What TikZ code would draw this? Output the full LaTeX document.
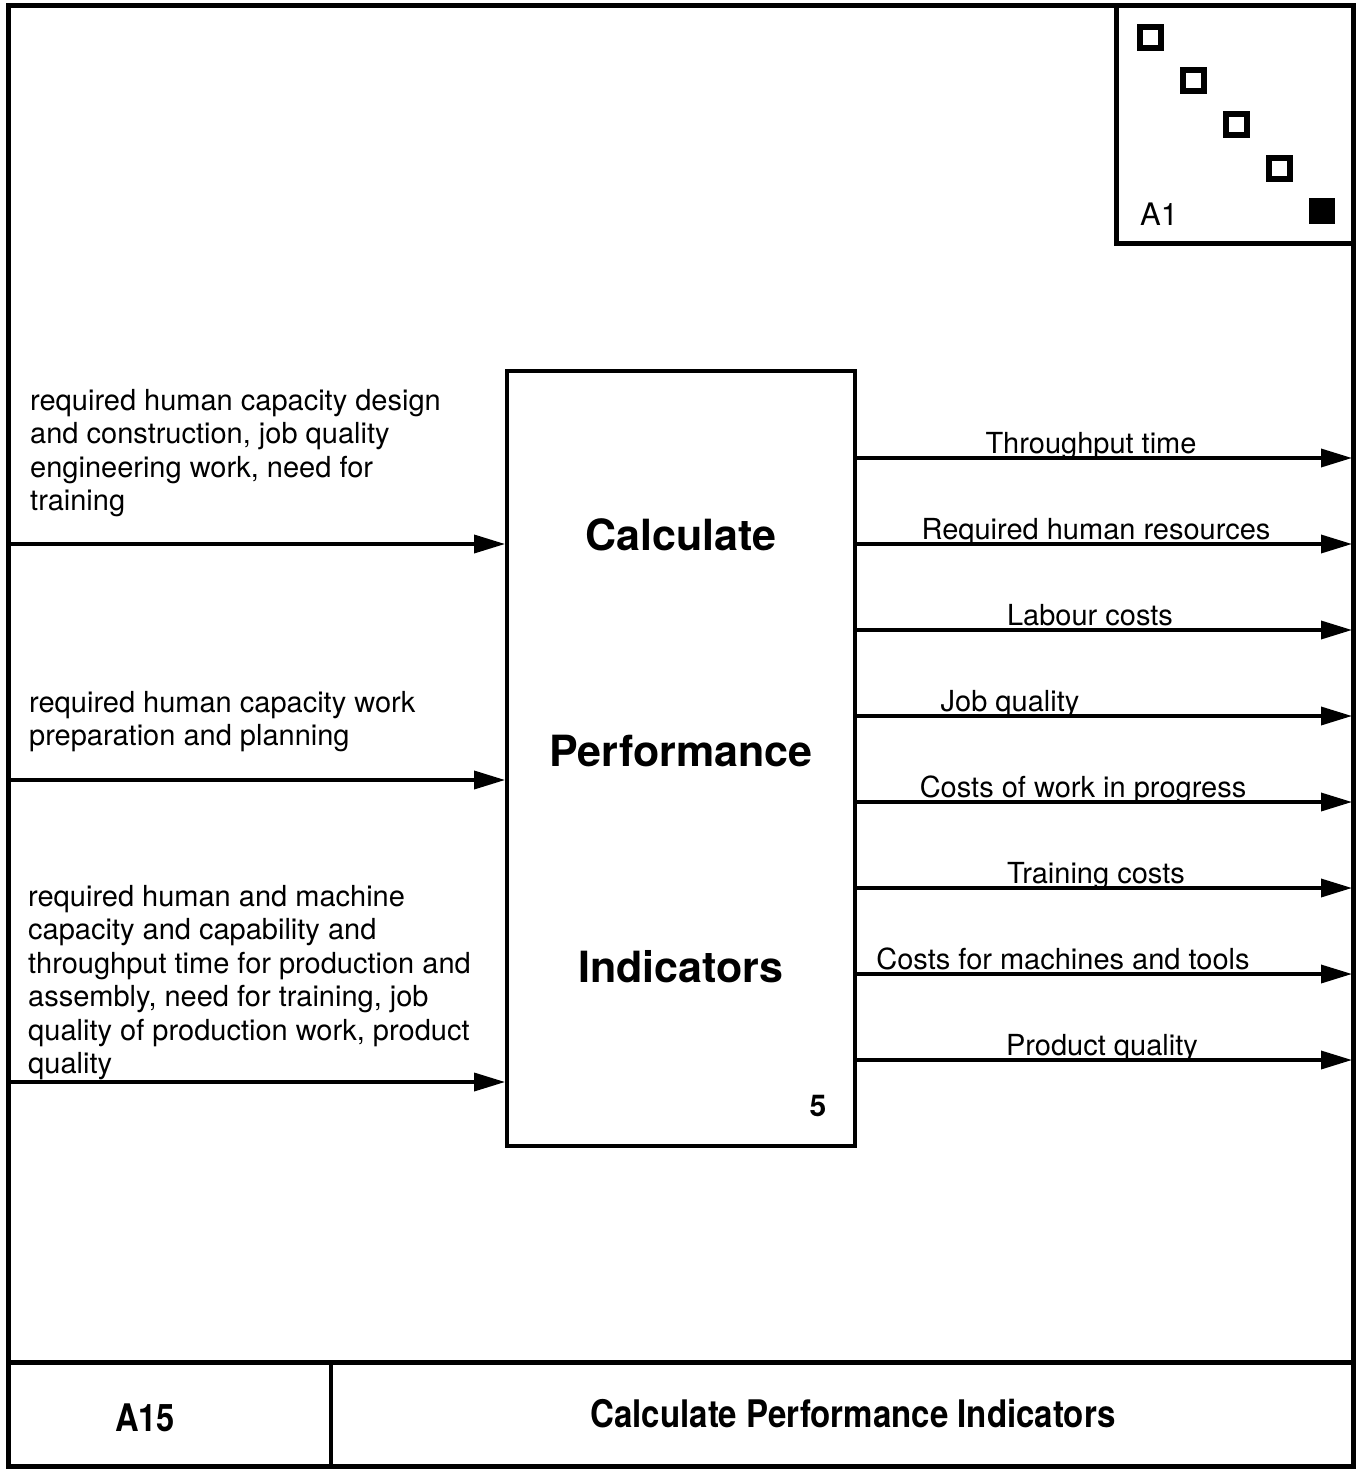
\documentclass[tikz,border=0pt]{standalone}
\usepackage{fontspec}
\setmainfont{TeX Gyre Heros}
\usetikzlibrary{arrows.meta}

\tikzset{
  frameline/.style={line width=5pt},
  boxline/.style={line width=3.8pt},
  flow/.style={line width=3.5pt, -{Triangle[length=31pt,width=18pt]}},
  inlabel/.style={anchor=base west, align=left, inner sep=0pt,
    font=\fontsize{29}{33.5}\selectfont},
  outlabel/.style={anchor=base, inner sep=0pt,
    font=\fontsize{29}{33.5}\selectfont},
  titleword/.style={anchor=base, inner sep=0pt,
    font=\fontsize{43}{50}\selectfont\bfseries},
  opensq/.style={draw, line width=6pt, minimum size=21pt, inner sep=0pt},
}

\begin{document}
\begin{tikzpicture}[x=1pt,y=-1pt]
\useasboundingbox (0,0) rectangle (1364,1469);

% outer frame and title bar
\draw[frameline] (8.5,5.5) rectangle (1353,1466);
\draw[frameline] (8,1362) -- (1353,1362);
\draw[boxline] (331,1362) -- (331,1466);
\node[anchor=base, inner sep=0pt, font=\fontsize{38}{44}\selectfont\bfseries]
  (nodeid) at (145,1431) {\scalebox{0.86}[1]{A15}};
\node[anchor=base, inner sep=0pt, font=\fontsize{38}{44}\selectfont\bfseries]
  (pagetitle) at (853,1427) {\scalebox{0.87}[1]{Calculate Performance Indicators}};

% node tree inset
\draw[frameline] (1116,6) rectangle (1353,243);
\node[opensq] (sq1) at (1150,38) {};
\node[opensq] (sq2) at (1193,81) {};
\node[opensq] (sq3) at (1236,125) {};
\node[opensq] (sq4) at (1279,168) {};
\node[fill, minimum size=26pt, inner sep=0pt] (sq5) at (1322,211) {};
\node[anchor=base west, inner sep=0pt, font=\fontsize{31}{36}\selectfont]
  (parent) at (1140,225) {A1};

% activity box
\node[draw, boxline, minimum width=348pt, minimum height=775pt, inner sep=0pt]
  (box) at (681,758.5) {};
\node[titleword] (t1) at (681,550) {Calculate};
\node[titleword] (t2) at (681,766) {Performance};
\node[titleword] (t3) at (681,982) {Indicators};
\node[anchor=base, inner sep=0pt, font=\fontsize{30}{34}\selectfont\bfseries]
  (num) at (818,1116) {5};

% inputs
\coordinate (i1) at (8,544);
\coordinate (i2) at (8,780);
\coordinate (i3) at (8,1082);
\draw[flow] (i1) -- (i1 -| box.west);
\draw[flow] (i2) -- (i2 -| box.west);
\draw[flow] (i3) -- (i3 -| box.west);

% multi-line labels are anchored at the baseline of their last line
\node[inlabel] (l1) at (30,510.5) {required human capacity design\\and construction, job quality\\engineering work, need for\\training};
\node[inlabel] (l2) at (29,745.5) {required human capacity work\\preparation and planning};
\node[inlabel] (l3) at (28,1073.5) {required human and machine\\capacity and capability and\\throughput time for production and\\assembly, need for training, job\\quality of production work, product\\quality};

% outputs
\foreach \y/\cx/\name/\txt in {
  458/1091/o1/Throughput time,
  544/1096/o2/Required human resources,
  630/1090/o3/Labour costs,
  716/1010/o4/Job quality,
  802/1083/o5/Costs of work in progress,
  888/1096/o6/Training costs,
  974/1063/o7/Costs for machines and tools,
  1060/1102/o8/Product quality}{
  \coordinate (\name) at (1352,\y);
  \draw[flow] (\name -| box.east) -- (\name);
  \node[outlabel] (\name lab) at (\cx,\y-5) {\txt};
}
\end{tikzpicture}
\end{document}
